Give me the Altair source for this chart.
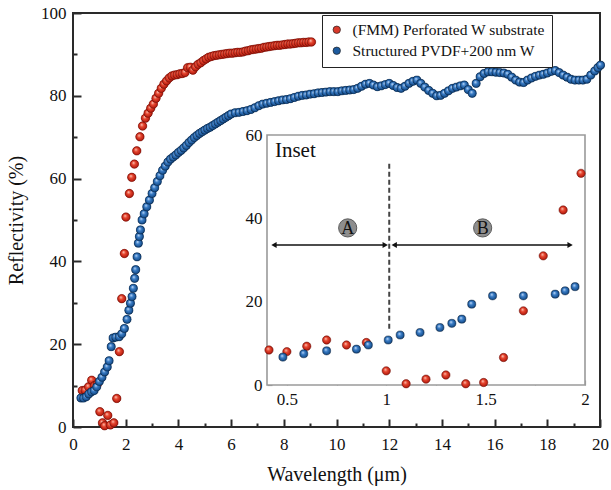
import altair as alt
import pandas as pd

SERIES = ["(FMM) Perforated W substrate", "Structured PVDF+200 nm W"]

# ---- main panel data (wavelength µm, reflectivity %) ----
red_pts = [
    (0.35, 8.8), (0.46, 8.9), (0.59, 9.7), (0.71, 11.3), (0.82, 10.0), (0.92, 10.3),
    (1.02, 3.7), (1.12, 1.0), (1.2, 0.3), (1.32, 2.8), (1.42, 0.5), (1.55, 1.0),
    (1.66, 6.9), (1.76, 18.2), (1.85, 31.0), (1.95, 41.9), (2.01, 50.7), (2.14, 56.4),
    (2.23, 60.3), (2.33, 63.5), (2.42, 66.7), (2.54, 70.1), (2.64, 72.7),
    (2.75, 74.6), (2.85, 75.8), (2.95, 77.0), (3.05, 78.0), (3.15, 79.4), (3.25, 80.6),
    (3.35, 81.8), (3.45, 82.8), (3.55, 83.6), (3.65, 84.3), (3.75, 84.8), (3.85, 85.0),
    (3.95, 85.1), (4.05, 85.3), (4.15, 85.4), (4.25, 85.6), (4.35, 86.8), (4.45, 86.9),
    (4.55, 86.2), (4.65, 87.0), (4.75, 87.6), (4.85, 88.0), (4.95, 88.5), (5.05, 88.9),
    (5.15, 89.3), (5.25, 89.5), (5.35, 89.7), (5.45, 89.8), (5.55, 89.9), (5.65, 90.0),
    (5.75, 90.1), (5.85, 90.2), (5.95, 90.3), (6.05, 90.3), (6.15, 90.4), (6.25, 90.5),
    (6.35, 90.5), (6.45, 90.6), (6.55, 90.8), (6.65, 90.9), (6.75, 91.1), (6.85, 91.2),
    (6.95, 91.3), (7.05, 91.4), (7.15, 91.5), (7.25, 91.7), (7.35, 91.8), (7.45, 91.9),
    (7.55, 92.0), (7.65, 92.1), (7.75, 92.2), (7.85, 92.2), (7.95, 92.3), (8.05, 92.4),
    (8.15, 92.5), (8.25, 92.5), (8.35, 92.6), (8.45, 92.7), (8.55, 92.8), (8.65, 92.8),
    (8.75, 92.9), (8.85, 92.9), (8.95, 93.0), (9.05, 93.0),
]

blue_pts = [
    (0.3, 7.0), (0.4, 7.0), (0.5, 7.3), (0.6, 8.0), (0.7, 8.5), (0.8, 8.8), (0.9, 9.7),
    (1.0, 11.0), (1.1, 12.0), (1.2, 13.3), (1.3, 14.5), (1.37, 16.0), (1.45, 19.4),
    (1.52, 21.5), (1.62, 21.7), (1.75, 21.8), (1.85, 22.5), (1.95, 23.8), (2.05, 26.0),
    (2.12, 28.2), (2.18, 29.9), (2.24, 31.5), (2.29, 33.5), (2.34, 35.9), (2.38, 38.0),
    (2.43, 41.1), (2.48, 44.4), (2.52, 46.0), (2.56, 47.6), (2.62, 50.0), (2.7, 51.5),
    (2.8, 53.2), (2.9, 54.8), (3.0, 56.4), (3.1, 57.8), (3.2, 59.3), (3.3, 60.7),
    (3.4, 62.0), (3.5, 63.0), (3.6, 64.0), (3.7, 64.7), (3.8, 65.2), (3.9, 65.7),
    (4.0, 66.3), (4.1, 66.8), (4.2, 67.4), (4.3, 68.0), (4.4, 68.7), (4.5, 69.3),
    (4.6, 69.9), (4.7, 70.4), (4.8, 70.9), (4.9, 71.3), (5.0, 71.7), (5.1, 72.1),
    (5.2, 72.4), (5.3, 72.8), (5.4, 73.2), (5.5, 73.6), (5.6, 74.0), (5.7, 74.4),
    (5.8, 74.8), (5.9, 75.2), (6.0, 75.6), (6.15, 75.9), (6.3, 76.0), (6.45, 76.2),
    (6.6, 76.4), (6.75, 76.7), (6.9, 77.1), (7.05, 77.6), (7.2, 78.0), (7.35, 78.2),
    (7.5, 78.4), (7.65, 78.6), (7.8, 78.8), (7.95, 79.0), (8.1, 79.1), (8.25, 79.3),
    (8.4, 79.6), (8.55, 79.9), (8.7, 80.1), (8.85, 80.2), (9.0, 80.4), (9.15, 80.5),
    (9.3, 80.7), (9.45, 80.8), (9.6, 80.9), (9.75, 81.0), (9.9, 81.0), (10.05, 81.0),
    (10.2, 81.2), (10.35, 81.3), (10.5, 81.4), (10.65, 81.5), (10.8, 81.8), (10.95, 82.3),
    (11.1, 82.8), (11.25, 83.0), (11.4, 82.6), (11.55, 82.2), (11.7, 82.4), (11.85, 82.7),
    (12.0, 83.0), (12.15, 82.5), (12.3, 82.0), (12.45, 81.8), (12.6, 82.3), (12.75, 83.0),
    (12.9, 83.5), (13.05, 83.8), (13.2, 83.0), (13.35, 82.1), (13.5, 81.3), (13.65, 80.6),
    (13.8, 80.0), (13.95, 80.1), (14.1, 80.6), (14.25, 81.2), (14.4, 81.8), (14.55, 82.1),
    (14.7, 82.4), (14.85, 82.6), (15.0, 81.5), (15.15, 80.6), (15.3, 83.0), (15.45, 84.6),
    (15.6, 85.4), (15.75, 85.8), (15.9, 85.8), (16.05, 85.7), (16.2, 85.6), (16.35, 85.5),
    (16.5, 85.2), (16.65, 84.5), (16.8, 83.8), (16.95, 83.3), (17.1, 83.2), (17.25, 83.8),
    (17.4, 84.3), (17.55, 84.7), (17.7, 85.0), (17.85, 85.2), (18.0, 85.5), (18.15, 85.9),
    (18.3, 86.1), (18.45, 85.6), (18.6, 85.0), (18.75, 84.5), (18.9, 84.0), (19.05, 83.8),
    (19.2, 83.8), (19.35, 83.8), (19.5, 84.0), (19.65, 85.0), (19.8, 86.0), (19.92, 86.8),
    (20.02, 87.4),
]

# ---- inset data ----
inset_red_pts = [
    (0.41, 8.4), (0.5, 8.0), (0.6, 9.3), (0.7, 10.8), (0.8, 9.6), (0.9, 10.2),
    (1.0, 3.4), (1.1, 0.3), (1.2, 1.4), (1.3, 2.4), (1.4, 0.3), (1.49, 0.6),
    (1.59, 6.6), (1.69, 17.8), (1.79, 31.0), (1.89, 42.0), (1.98, 50.8),
]
inset_blue_pts = [
    (0.48, 6.7), (0.585, 7.5), (0.7, 8.2), (0.85, 8.6), (0.91, 9.6), (1.01, 10.8),
    (1.07, 12.0), (1.17, 12.6), (1.27, 13.8), (1.33, 14.8), (1.38, 15.8), (1.43, 19.4),
    (1.535, 21.4), (1.69, 21.4), (1.85, 21.8), (1.9, 22.6), (1.95, 23.6),
]

main_x_major = [0, 2, 4, 6, 8, 10, 12, 14, 16, 18, 20]
main_x_minor = [1, 3, 5, 7, 9, 11, 13, 15, 17, 19]
main_y_major = [0, 20, 40, 60, 80, 100]
main_y_minor = [10, 30, 50, 70, 90]
inset_x_major = [0.5, 1.0, 1.5, 2.0]
inset_x_minor = [0.75, 1.25, 1.75]
inset_y_major = [0, 20, 40, 60]
inset_y_minor = [10, 30, 50]
inset_x_domain = [0.4, 2.0]
inset_y_domain = [0, 60]

region_names = ["A", "B"]
region_x = [0.806, 1.485]
region_y = [37.7, 37.7]
arrow_start = [0.44, 1.045]
arrow_end = [0.99, 1.92]
arrow_y = [33.6, 33.6]
head_x = [0.435, 0.995, 1.04, 1.925]
head_shape = ["triangle-left", "triangle-right", "triangle-left", "triangle-right"]
divider = {"x": 1.015, "y0": 13.5, "y1": 53.6}
inset_label = {"text": "Inset", "x": 0.44, "y": 56.2}

# ---- layout ----
W, H = 527, 414
FONT = "Liberation Serif"
INSET_PX = {"x0": 194, "x1": 512, "y0": 372, "y1": 122}

red_df = pd.DataFrame(red_pts, columns=["x", "y"]).assign(series=SERIES[0])
blue_df = pd.DataFrame(blue_pts, columns=["x", "y"]).assign(series=SERIES[1])
main_df = pd.concat([red_df, blue_df], ignore_index=True)
ired_df = pd.DataFrame(inset_red_pts, columns=["x", "y"])
iblue_df = pd.DataFrame(inset_blue_pts, columns=["x", "y"])


def sphere(hi, mid, dark, edge):
    return alt.RadialGradient(
        gradient="radial",
        stops=[
            alt.GradientStop(offset=0, color=hi),
            alt.GradientStop(offset=0.4, color=mid),
            alt.GradientStop(offset=0.85, color=dark),
            alt.GradientStop(offset=1, color=edge),
        ],
        x1=0.38, y1=0.32, r1=0, x2=0.5, y2=0.5, r2=0.55,
    )


RED_FILL = sphere("#ffd2c4", "#e6462f", "#b71d10", "#6b0d05")
BLUE_FILL = sphere("#cfe5ff", "#3b7dc6", "#17508f", "#07213f")

mx = alt.Scale(domain=[0, 20], nice=False, zero=False)
my = alt.Scale(domain=[0, 100], nice=False)
ix = alt.Scale(domain=inset_x_domain, range=[INSET_PX["x0"], INSET_PX["x1"]], nice=False, zero=False)
iy = alt.Scale(domain=inset_y_domain, range=[INSET_PX["y0"], INSET_PX["y1"]], nice=False, zero=False)

bx_off = -(H - INSET_PX["y0"])
ly_off = -INSET_PX["x0"]

# ---------- main panel ----------
base = alt.Chart(main_df)

m_labels = base.mark_point(opacity=0).encode(
    x=alt.X("x:Q", scale=mx, axis=alt.Axis(
        orient="bottom", values=main_x_major, format="d", ticks=False, tickSize=0,
        domain=False, labelPadding=9, labelFlush=False, title="Wavelength (μm)",
        titlePadding=12)),
    y=alt.Y("y:Q", scale=my, axis=alt.Axis(
        orient="left", values=main_y_major, format="d", ticks=False, tickSize=0,
        domain=False, labelPadding=7, labelFlush=False, title="Reflectivity (%)",
        titlePadding=14)),
)


def tick_layer(data, xs, ys, xv, yv, size, xoff, yoff, color, width):
    return alt.Chart(data).mark_point(opacity=0).encode(
        x=alt.X("x:Q", scale=xs, axis=alt.Axis(
            orient="bottom", values=xv, labels=False, domain=False, tickSize=size,
            offset=xoff - size, tickColor=color, tickWidth=width, title=None)),
        y=alt.Y("y:Q", scale=ys, axis=alt.Axis(
            orient="left", values=yv, labels=False, domain=False, tickSize=size,
            offset=yoff - size, tickColor=color, tickWidth=width, title=None)),
    )


m_major = tick_layer(main_df, mx, my, main_x_major, main_y_major, 8, 0, 0, "#2a2a2a", 2)
m_minor = tick_layer(main_df, mx, my, main_x_minor, main_y_minor, 4, 0, 0, "#2a2a2a", 2)

m_legend = base.mark_point(filled=True, size=70, opacity=1).encode(
    x=alt.X("x:Q", scale=mx, axis=None),
    y=alt.Y("y:Q", scale=my, axis=None),
    color=alt.Color("series:N", scale=alt.Scale(domain=SERIES, range=["#d9392a", "#1c5a9e"]),
                    legend=alt.Legend(
                        orient="none", legendX=249, legendY=2, title=None,
                        strokeColor="#222", fillColor="white", padding=7,
                        labelFont=FONT, labelFontSize=15.5, labelColor="#111",
                        labelLimit=0,
                        symbolType="circle", symbolSize=55, symbolStrokeColor="#222",
                        symbolStrokeWidth=0.7, symbolOpacity=1, rowPadding=4,
                        labelOffset=8)),
)

m_red = alt.Chart(red_df).mark_point(
    filled=True, size=72, fill=RED_FILL, stroke="#6b0d05", strokeWidth=0.5, opacity=1
).encode(x=alt.X("x:Q", scale=mx, axis=None), y=alt.Y("y:Q", scale=my, axis=None))

m_blue = alt.Chart(blue_df).mark_point(
    filled=True, size=66, fill=BLUE_FILL, stroke="#07213f", strokeWidth=0.5, opacity=1
).encode(x=alt.X("x:Q", scale=mx, axis=None), y=alt.Y("y:Q", scale=my, axis=None))

main = alt.layer(m_labels, m_major, m_minor, m_legend, m_red, m_blue).resolve_axis(
    x="independent", y="independent")

# ---------- inset ----------
frame_df = pd.DataFrame({"x0": [inset_x_domain[0]], "x1": [inset_x_domain[1]],
                         "y0": [inset_y_domain[0]], "y1": [inset_y_domain[1]]})
i_frame = alt.Chart(frame_df).mark_rect(fill="white", stroke="#9a9a9a", strokeWidth=1.6).encode(
    x=alt.X("x0:Q", scale=ix, axis=alt.Axis(
        orient="bottom", values=inset_x_major, format="~g", ticks=False, tickSize=0,
        domain=False, labelPadding=6, labelFlush=False, offset=bx_off, title=None)),
    x2="x1:Q",
    y=alt.Y("y0:Q", scale=iy, axis=alt.Axis(
        orient="left", values=inset_y_major, format="d", ticks=False, tickSize=0,
        domain=False, labelPadding=5, labelFlush=False, offset=ly_off, title=None)),
    y2="y1:Q",
)

i_major = tick_layer(ired_df, ix, iy, inset_x_major, inset_y_major, 5, bx_off, ly_off, "#9a9a9a", 1.2)
i_minor = tick_layer(ired_df, ix, iy, inset_x_minor, inset_y_minor, 3, bx_off, ly_off, "#9a9a9a", 1.2)

div_df = pd.DataFrame({"x": [divider["x"]], "y0": [divider["y0"]], "y1": [divider["y1"]]})
i_div = alt.Chart(div_df).mark_rule(color="#444", strokeWidth=2, strokeDash=[5, 3]).encode(
    x=alt.X("x:Q", scale=ix, axis=None), y=alt.Y("y0:Q", scale=iy, axis=None), y2="y1:Q")

arr_df = pd.DataFrame({"x0": arrow_start, "x1": arrow_end, "y": arrow_y})
i_arr = alt.Chart(arr_df).mark_rule(color="#111", strokeWidth=1.6).encode(
    x=alt.X("x0:Q", scale=ix, axis=None), x2="x1:Q", y=alt.Y("y:Q", scale=iy, axis=None))

head_df = pd.DataFrame({"x": head_x, "y": [arrow_y[0]] * len(head_x), "shape": head_shape})
i_heads = alt.Chart(head_df).mark_point(filled=True, color="#111", size=38, opacity=1).encode(
    x=alt.X("x:Q", scale=ix, axis=None), y=alt.Y("y:Q", scale=iy, axis=None),
    shape=alt.Shape("shape:N", scale=None, legend=None))

reg_df = pd.DataFrame({"x": region_x, "y": region_y, "name": region_names})
i_circ = alt.Chart(reg_df).mark_point(
    filled=True, fill="#8e8e8e", stroke="#5a5a5a", strokeWidth=1, size=330, opacity=1).encode(
    x=alt.X("x:Q", scale=ix, axis=None), y=alt.Y("y:Q", scale=iy, axis=None))
i_txt = alt.Chart(reg_df).mark_text(font=FONT, fontSize=18, color="#111", baseline="middle",
                                    align="center", dy=1).encode(
    x=alt.X("x:Q", scale=ix, axis=None), y=alt.Y("y:Q", scale=iy, axis=None), text="name:N")

lab_df = pd.DataFrame({"x": [inset_label["x"]], "y": [inset_label["y"]], "t": [inset_label["text"]]})
i_lab = alt.Chart(lab_df).mark_text(font=FONT, fontSize=21, color="#111", baseline="middle",
                                    align="left").encode(
    x=alt.X("x:Q", scale=ix, axis=None), y=alt.Y("y:Q", scale=iy, axis=None), text="t:N")

i_red = alt.Chart(ired_df).mark_point(
    filled=True, size=70, fill=RED_FILL, stroke="#6b0d05", strokeWidth=0.5, opacity=1
).encode(x=alt.X("x:Q", scale=ix, axis=None), y=alt.Y("y:Q", scale=iy, axis=None))
i_blue = alt.Chart(iblue_df).mark_point(
    filled=True, size=66, fill=BLUE_FILL, stroke="#07213f", strokeWidth=0.5, opacity=1
).encode(x=alt.X("x:Q", scale=ix, axis=None), y=alt.Y("y:Q", scale=iy, axis=None))

inset = alt.layer(i_frame, i_major, i_minor, i_div, i_arr, i_heads, i_circ, i_txt, i_lab,
                  i_red, i_blue).resolve_axis(x="independent", y="independent")

chart = (
    alt.layer(main, inset)
    .resolve_scale(x="independent", y="independent")
    .properties(width=W, height=H, autosize=alt.AutoSizeParams(type="none"),
                padding={"left": 73, "top": 13, "right": 11, "bottom": 63},
                background="white")
    .configure_view(stroke="#2a2a2a", strokeWidth=2)
    .configure_axis(grid=False, labelFont=FONT, titleFont=FONT, labelFontSize=17,
                    titleFontSize=20, titleFontWeight="normal", labelColor="#111",
                    titleColor="#111")
)

chart.save("out.html", embed_options={"renderer": "svg", "actions": False})
